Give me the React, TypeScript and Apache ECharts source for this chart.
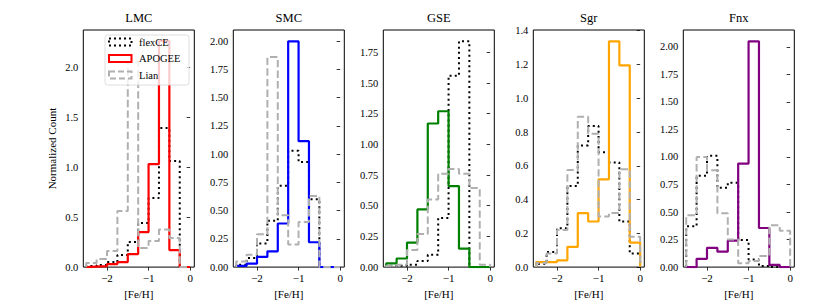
import React, { useEffect, useRef } from "react";
import * as echarts from "echarts";

// ---------- data ----------
const BIN_EDGES = [-2.5, -2.25, -2.0, -1.75, -1.5, -1.25, -1.0, -0.75, -0.5, -0.25, 0];
const PANEL_NAMES = ["LMC", "SMC", "GSE", "Sgr", "Fnx"];
const APOGEE_COLORS = ["#ff0000", "#0000ff", "#008000", "#ffa500", "#800080"];
const SERIES_NAMES = ["flexCE", "APOGEE", "Lian"];

const FLEXCE_LMC = [0.01, 0.02, 0.05, 0.12, 0.25, 0.44, 0.69, 1.39, 1.06, 0];
const APOGEE_LMC = [0.005, 0.01, 0.03, 0.05, 0.13, 0.35, 1.03, 2.26, 0.17, 0];
const LIAN_LMC = [0.04, 0.08, 0.16, 0.56, 2.05, 0.19, 0.26, 0.375, 0.29, 0];

const FLEXCE_SMC = [0.02, 0.08, 0.21, 0.41, 0.72, 1.03, 0.93, 0.6, 0, 0];
const APOGEE_SMC = [0.01, 0.03, 0.09, 0.14, 0.386, 2.0, 1.115, 0.22, 0, 0];
const LIAN_SMC = [0.05, 0.11, 0.29, 1.86, 0.46, 0.2, 0.4, 0.63, 0, 0];

const FLEXCE_GSE = [0.01, 0.01, 0.02, 0.05, 0.1, 0.4, 1.56, 1.84, 0, 0];
const APOGEE_GSE = [0.03, 0.07, 0.2, 0.47, 1.17, 1.27, 0.66, 0.15, 0, 0];
const LIAN_GSE = [0.01, 0.02, 0.14, 0.27, 0.55, 0.76, 0.8, 0.76, 0.645, 0.02];

const FLEXCE_SGR = [0.02, 0.09, 0.23, 0.48, 0.72, 0.835, 0.68, 0.62, 0.27, 0.08];
const APOGEE_SGR = [0.03, 0.03, 0.04, 0.12, 0.32, 0.27, 0.52, 1.337, 1.195, 0.145];
const LIAN_SGR = [0.025, 0.08, 0.22, 0.575, 0.89, 0.79, 0.3, 0.32, 0.58, 0.18];

const FLEXCE_FNX = [0.37, 0.83, 1.01, 0.72, 0.765, 0.245, 0.07, 0.01, 0, 0];
const APOGEE_FNX = [0, 0.075, 0.175, 0.14, 0.24, 0.94, 2.05, 0.355, 0.02, 0];
const LIAN_FNX = [0.47, 1.0, 0.88, 0.49, 0.25, 0.035, 0.055, 0.1, 0.38, 0.33];

const Y_MAX = [2.37, 2.1, 1.932, 1.404, 2.1525];
const Y_TICKS_LMC = [0, 0.5, 1.0, 1.5, 2.0];
const Y_TICKS_SMC = [0, 0.25, 0.5, 0.75, 1.0, 1.25, 1.5, 1.75, 2.0];
const Y_TICKS_GSE = [0, 0.25, 0.5, 0.75, 1.0, 1.25, 1.5, 1.75];
const Y_TICKS_SGR = [0, 0.2, 0.4, 0.6, 0.8, 1.0, 1.2, 1.4];
const Y_TICKS_FNX = [0, 0.25, 0.5, 0.75, 1.0, 1.25, 1.5, 1.75, 2.0];
const Y_DECIMALS = [1, 2, 2, 1, 2];
const X_TICKS = [-2, -1, 0];
const X_MIN = -2.57;
const X_MAX = 0.1;

const FLEXCE = [FLEXCE_LMC, FLEXCE_SMC, FLEXCE_GSE, FLEXCE_SGR, FLEXCE_FNX];
const APOGEE = [APOGEE_LMC, APOGEE_SMC, APOGEE_GSE, APOGEE_SGR, APOGEE_FNX];
const LIAN = [LIAN_LMC, LIAN_SMC, LIAN_GSE, LIAN_SGR, LIAN_FNX];
const Y_TICKS = [Y_TICKS_LMC, Y_TICKS_SMC, Y_TICKS_GSE, Y_TICKS_SGR, Y_TICKS_FNX];

// ---------- helpers ----------
function stepPoints(h: number[]): number[][] {
  const pts: number[][] = [[BIN_EDGES[0], 0]];
  for (let i = 0; i < h.length; i++) {
    pts.push([BIN_EDGES[i], h[i]]);
    pts.push([BIN_EDGES[i + 1], h[i]]);
  }
  pts.push([BIN_EDGES[BIN_EDGES.length - 1], 0]);
  return pts;
}

const FONT = "'Liberation Serif', 'DejaVu Serif', serif";
const GREY = "#b0b0b0";
const DOTTED = [2, 3.2];
const DASHED = [7.4, 3.2];

export default function App() {
  const ref = useRef<HTMLDivElement>(null);
  useEffect(() => {
    if (!ref.current) return;
    const chart = echarts.init(ref.current, undefined, { renderer: "svg" });

    const LEFT0 = 83.3;
    const STEP = 150;
    const TOP = 30;
    const W = 111;
    const H = 238;

    const grids: any[] = [];
    const xAxes: any[] = [];
    const yAxes: any[] = [];
    const series: any[] = [];
    const graphics: any[] = [];

    PANEL_NAMES.forEach((name, i) => {
      const left = LEFT0 + STEP * i;
      grids.push({
        left,
        top: TOP,
        width: W,
        height: H,
        show: true,
        borderColor: "#000",
        borderWidth: 1,
        backgroundColor: "transparent",
        containLabel: false,
      });
      xAxes.push({
        type: "value",
        gridIndex: i,
        min: X_MIN,
        max: X_MAX,
        axisLine: { show: false },
        splitLine: { show: false },
        axisTick: {
          show: true,
          length: 3.5,
          lineStyle: { color: "#000", width: 0.8 },
          customValues: X_TICKS,
        },
        axisLabel: {
          customValues: X_TICKS,
          margin: 5,
          fontFamily: FONT,
          fontSize: 11,
          color: "#000",
          formatter: (v: number) => (v < 0 ? "\u2212" + Math.abs(v) : String(v)),
        },
        name: "[Fe/H]",
        nameLocation: "middle",
        nameGap: 18,
        nameTextStyle: { fontFamily: FONT, fontSize: 11, color: "#000" },
      });
      yAxes.push({
        type: "value",
        gridIndex: i,
        min: 0,
        max: Y_MAX[i],
        axisLine: { show: false },
        splitLine: { show: false },
        axisTick: {
          show: true,
          length: 3.5,
          lineStyle: { color: "#000", width: 0.8 },
          customValues: Y_TICKS[i],
        },
        axisLabel: {
          customValues: Y_TICKS[i],
          margin: 5,
          fontFamily: FONT,
          fontSize: 10.5,
          color: "#000",
          formatter: (v: number) => v.toFixed(Y_DECIMALS[i]),
        },
        name: i === 0 ? "Normalized Count" : "",
        nameLocation: "middle",
        nameGap: 26,
        nameRotate: 90,
        nameTextStyle: { fontFamily: FONT, fontSize: 11, color: "#000" },
      });

      series.push({
        type: "line",
        name: SERIES_NAMES[0],
        xAxisIndex: i,
        yAxisIndex: i,
        data: stepPoints(FLEXCE[i]),
        showSymbol: false,
        symbol: "none",
        lineStyle: { color: "#000", width: 2, type: DOTTED, cap: "butt" },
        z: 2,
      });
      series.push({
        type: "line",
        name: SERIES_NAMES[1],
        xAxisIndex: i,
        yAxisIndex: i,
        data: stepPoints(APOGEE[i]),
        showSymbol: false,
        symbol: "none",
        lineStyle: { color: APOGEE_COLORS[i], width: 2.2, type: "solid" },
        z: 3,
      });
      series.push({
        type: "line",
        name: SERIES_NAMES[2],
        xAxisIndex: i,
        yAxisIndex: i,
        data: stepPoints(LIAN[i]),
        showSymbol: false,
        symbol: "none",
        lineStyle: { color: GREY, width: 2, type: DASHED, cap: "butt" },
        z: 4,
      });

      graphics.push({
        type: "text",
        x: left + W / 2,
        y: 18,
        style: {
          text: name,
          fontFamily: FONT,
          fontSize: 12.5,
          fill: "#000",
          textAlign: "center",
          textVerticalAlign: "middle",
        },
      });
    });

    // legend (in LMC panel)
    const legendItems = [
      { label: SERIES_NAMES[0], stroke: "#000", dash: [2, 3] },
      { label: SERIES_NAMES[1], stroke: APOGEE_COLORS[0], dash: null },
      { label: SERIES_NAMES[2], stroke: GREY, dash: [6, 3] },
    ];
    graphics.push({
      type: "rect",
      z: 100,
      shape: { x: 105, y: 35, width: 84, height: 50, r: 2.5 },
      style: { fill: "rgba(255,255,255,0.8)", stroke: "#d6d6d6", lineWidth: 0.8 },
    });
    legendItems.forEach((it, k) => {
      const cy = 42 + k * 16.5;
      graphics.push({
        type: "rect",
        z: 101,
        shape: { x: 109, y: cy - 3.5, width: 22.5, height: 7 },
        style: {
          fill: "none",
          stroke: it.stroke,
          lineWidth: 2,
          lineDash: it.dash || undefined,
        },
      });
      graphics.push({
        type: "text",
        z: 101,
        x: 139,
        y: cy,
        style: {
          text: it.label,
          fontFamily: FONT,
          fontSize: 10.5,
          fill: "#000",
          textAlign: "left",
          textVerticalAlign: "middle",
        },
      });
    });

    chart.setOption({
      animation: false,
      backgroundColor: "#fff",
      textStyle: { fontFamily: FONT },
      grid: grids,
      xAxis: xAxes,
      yAxis: yAxes,
      series,
      graphic: graphics,
    });
    return () => chart.dispose();
  }, []);

  return (
    <div
      ref={ref}
      style={{ position: "fixed", left: 0, top: 0, width: 835, height: 304 }}
    />
  );
}
